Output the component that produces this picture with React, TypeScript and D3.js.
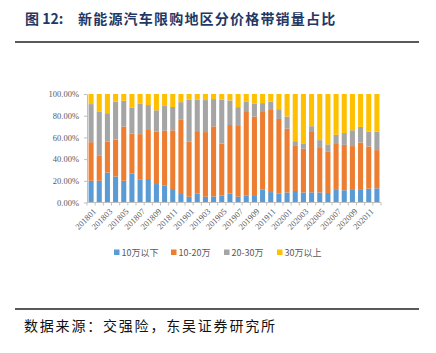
import React, { useEffect, useRef } from "react";
import * as d3 from "d3";

const months = [
  "201801", "201802", "201803", "201804", "201805", "201806", "201807", "201808", "201809", "201810", "201811", "201812",
  "201901", "201902", "201903", "201904", "201905", "201906", "201907", "201908", "201909", "201910", "201911", "201912",
  "202001", "202002", "202003", "202004", "202005", "202006", "202007", "202008", "202009", "202010", "202011", "202012",
];

const below10 = [
  20, 20, 27.6, 24, 20, 26.7, 21.4, 21.7, 17, 15.8, 12.4, 7.8,
  5.3, 8.4, 5.3, 5.6, 6.5, 8.4, 5.3, 6.2, 6.8, 11.8, 9.6, 8.1,
  9.3, 10.6, 9.3, 9.4, 9.3, 8.8, 11.6, 11.3, 12.3, 12.3, 12.8, 13.1,
];
const from10to20 = [
  35.6, 23, 28.6, 34, 50, 37, 41.6, 45.1, 48.2, 50.3, 54.1, 68.9,
  50.7, 57.4, 59.6, 64.6, 47.8, 63, 65.2, 78, 72.4, 72.4, 76.4, 68.9,
  58.7, 42.2, 40.2, 55.6, 41.7, 37.9, 43.1, 41.8, 39.7, 43, 38.8, 35.2,
];
const from20to30 = [
  35.1, 40.5, 26.1, 34.9, 23.8, 23.9, 28.3, 23, 19.8, 22.9, 21.5, 15.8,
  38.7, 28.9, 29.5, 25.1, 40.4, 22.7, 17.4, 9, 12.1, 7.4, 6.9, 9,
  11.2, 3.7, 4.5, 5.3, 6.5, 6.9, 7.7, 10.9, 14.6, 14.4, 13.6, 16.9,
];
const above30 = [
  9.3, 16.5, 17.7, 7.1, 6.2, 12.4, 8.7, 10.2, 15, 11, 12, 7.5,
  5.3, 5.3, 5.6, 4.7, 5.3, 5.9, 12.1, 6.8, 8.7, 8.4, 7.1, 14,
  20.8, 43.5, 46, 29.7, 42.5, 46.4, 37.6, 36, 33.4, 30.3, 34.8, 34.8,
];

const seriesNames = ["10万以下", "10-20万", "20-30万", "30万以上"];
const colors = ["#5B9BD5", "#ED7D31", "#A5A5A5", "#FFC000"];
const yTicks = [0, 20, 40, 60, 80, 100];

export default function App() {
  const ref = useRef<SVGSVGElement>(null);

  useEffect(() => {
    const svg = d3.select(ref.current);
    svg.selectAll("*").remove();

    const left = 87, right = 381, top = 94, bottom = 202.5;
    const cjk = "'Noto Sans CJK SC', 'Noto Sans', sans-serif";
    const serif = "'Liberation Serif', 'DejaVu Serif', serif";

    // title + rules
    svg.append("text")
      .attr("x", 25).attr("y", 24)
      .attr("font-family", cjk).attr("font-weight", "bold")
      .attr("font-size", 14).attr("fill", "#1F3864")
      .text("图 12:");
    svg.append("text")
      .attr("x", 78).attr("y", 24)
      .attr("font-family", cjk).attr("font-weight", "bold")
      .attr("font-size", 14).attr("letter-spacing", 1.2).attr("fill", "#1F3864")
      .text("新能源汽车限购地区分价格带销量占比");
    svg.append("line").attr("x1", 15).attr("x2", 419).attr("y1", 42).attr("y2", 42)
      .attr("stroke", "#222").attr("stroke-width", 1.5);
    svg.append("line").attr("x1", 15).attr("x2", 419).attr("y1", 309).attr("y2", 309)
      .attr("stroke", "#222").attr("stroke-width", 1.5);
    svg.append("text")
      .attr("x", 24).attr("y", 331)
      .attr("font-family", cjk).attr("font-size", 14).attr("letter-spacing", 1.8).attr("fill", "#111")
      .text("数据来源：交强险，东吴证券研究所");

    const rows = months.map((m, i) => ({
      month: m,
      s0: below10[i], s1: from10to20[i], s2: from20to30[i], s3: above30[i],
    }));
    const stack = d3.stack<any>().keys(["s0", "s1", "s2", "s3"]);
    const layers = stack(rows);
    const total = (d: any) => d.s0 + d.s1 + d.s2 + d.s3;

    const x = d3.scaleBand<string>().domain(months).range([left, right]).paddingInner(0.38).paddingOuter(0.19);
    const y = d3.scaleLinear().domain([0, 100]).range([bottom, top]);

    svg.append("g").selectAll("g").data(layers).join("g")
      .attr("fill", (_d, i) => colors[i])
      .selectAll("rect").data((d) => d).join("rect")
      .attr("x", (d) => x(d.data.month)!)
      .attr("width", x.bandwidth())
      .attr("y", (d) => y((d[1] * 100) / total(d.data)))
      .attr("height", (d) => y((d[0] * 100) / total(d.data)) - y((d[1] * 100) / total(d.data)));

    // y axis
    const yAxis = svg.append("g").attr("transform", `translate(${left},0)`)
      .call(d3.axisLeft(y).tickValues(yTicks).tickSize(3).tickSizeOuter(0).tickFormat((d) => `${(+d).toFixed(2)}%`));
    yAxis.select(".domain").attr("stroke", "#BFBFBF");
    yAxis.selectAll(".tick line").attr("stroke", "#BFBFBF");
    yAxis.selectAll(".tick text").attr("fill", "#595959").attr("font-family", serif).attr("font-size", 8.5).attr("x", -8);

    // x axis
    const xg = svg.append("g").attr("transform", `translate(0,${bottom})`);
    xg.append("line").attr("x1", left).attr("x2", right).attr("stroke", "#BFBFBF");
    const step = x.step();
    const edge = (i: number) => left + x.paddingOuter() * step - (x.paddingInner() * step) / 2 + i * step;
    xg.selectAll("line.tk").data(d3.range(months.length + 1)).join("line")
      .attr("class", "tk")
      .attr("x1", edge).attr("x2", edge)
      .attr("y1", 0).attr("y2", 3).attr("stroke", "#BFBFBF");
    xg.selectAll("text").data(months.filter((_m, i) => i % 2 === 0)).join("text")
      .attr("transform", (m) => `translate(${x(m)! + x.bandwidth() / 2 + 2},${6}) rotate(-45)`)
      .attr("text-anchor", "end").attr("dy", "0.6em")
      .attr("font-family", serif).attr("font-size", 8.5).attr("fill", "#595959")
      .text((m) => m);

    // legend
    const legendX = [114, 171, 224, 277];
    const lg = svg.append("g").attr("transform", "translate(0,253)");
    seriesNames.forEach((name, i) => {
      lg.append("rect").attr("x", legendX[i]).attr("y", -3.5).attr("width", 5.5).attr("height", 5.5).attr("fill", colors[i]);
      lg.append("text").attr("x", legendX[i] + 7.5).attr("y", 0).attr("dy", "0.35em")
        .attr("font-family", cjk).attr("font-size", 9).attr("fill", "#595959").text(name);
    });
  }, []);

  return (
    <svg ref={ref} width={436} height={353}
      style={{ position: "absolute", left: 0, top: 0, background: "#fff" }} />
  );
}
